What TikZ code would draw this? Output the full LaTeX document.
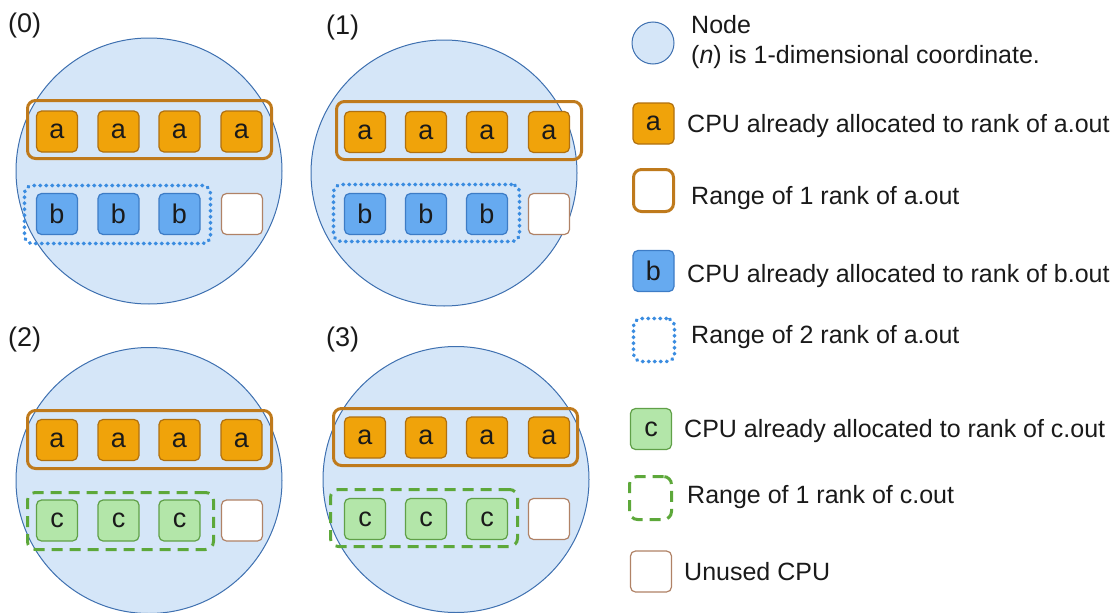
\documentclass[tikz,border=0pt]{standalone}
\usepackage{fontspec}
\setmainfont{Liberation Sans}
\usetikzlibrary{fit}
\definecolor{circfill}{HTML}{D5E6F8}
\definecolor{circline}{HTML}{3E70B0}
\definecolor{afill}{HTML}{F0A30A}
\definecolor{aline}{HTML}{B0700F}
\definecolor{arange}{HTML}{BF7A1C}
\definecolor{bfill}{HTML}{66AAF0}
\definecolor{bline}{HTML}{3D7CC6}
\definecolor{brange}{HTML}{3A8CE0}
\definecolor{cfill}{HTML}{B3E6A9}
\definecolor{cline}{HTML}{60A048}
\definecolor{crange}{HTML}{5DA83A}
\definecolor{uline}{HTML}{B08266}
\definecolor{txt}{HTML}{1A1A1A}
\tikzset{
 cpu/.style={draw, rounded corners=5pt, minimum size=41pt, inner sep=0pt, line width=1.2pt, font=\fontsize{27}{30}\selectfont, text=txt},
 acpu/.style={cpu, fill=afill, draw=aline},
 bcpu/.style={cpu, fill=bfill, draw=bline},
 ccpu/.style={cpu, fill=cfill, draw=cline},
 ucpu/.style={cpu, fill=white, draw=uline},
 nodecirc/.style={circle, draw=circline, fill=circfill, line width=1pt, minimum size=266pt, inner sep=0pt},
 rng/.style={rectangle, inner sep=0pt, line width=3pt, rounded corners=8pt},
 arng/.style={rng, draw=arange},
 brng/.style={rng, draw=brange, line width=3.6pt, dash pattern=on 0.6pt off 5.4pt, line cap=round},
 crng/.style={rng, draw=crange, dash pattern=on 11pt off 7pt},
 lbl/.style={font=\fontsize{25}{30}\selectfont, text=txt, anchor=base west, inner sep=0pt},
 panel/.style={font=\fontsize{27}{30}\selectfont, text=txt, anchor=base west, inner sep=0pt},
}
\begin{document}
\begin{tikzpicture}[x=1pt,y=-1pt]
\useasboundingbox (0,0) rectangle (1117,613);
% ---------- panel (0)
\node[panel] (p0) at (8,32.5) {(0)};
\node[nodecirc] (n0) at (149,171) {};
\node[acpu] (a01) at (57,131.5) {a};
\node[acpu] (a02) at (118.5,131.5) {a};
\node[acpu] (a03) at (179.5,131.5) {a};
\node[acpu] (a04) at (241.5,131.5) {a};
\node[bcpu] (b01) at (57,214) {b};
\node[bcpu] (b02) at (118.5,214) {b};
\node[bcpu] (b03) at (179.5,214) {b};
\node[ucpu] (u0) at (242,214) {};
\node[arng, fit={(27.5,100.5) (271.5,158.5)}] (r0a) {};
\node[brng, fit={(24.5,185.5) (210.5,243.5)}] (r0b) {};
% ---------- panel (1)
\node[panel] (p1) at (326,34.5) {(1)};
\node[nodecirc] (n1) at (444,173) {};
\node[acpu] (a11) at (365,132) {a};
\node[acpu] (a12) at (426,132) {a};
\node[acpu] (a13) at (487,132) {a};
\node[acpu] (a14) at (549,132) {a};
\node[bcpu] (b11) at (365,214) {b};
\node[bcpu] (b12) at (426,214) {b};
\node[bcpu] (b13) at (487,214) {b};
\node[ucpu] (u1) at (549,214) {};
\node[arng, fit={(336.5,101.5) (581.5,159.5)}] (r1a) {};
\node[brng, fit={(333.5,184.5) (519.5,241.5)}] (r1b) {};
% ---------- panel (2)
\node[panel] (p2) at (8,346.5) {(2)};
\node[nodecirc] (n2) at (149,480.5) {};
\node[acpu] (a21) at (57,440) {a};
\node[acpu] (a22) at (118.5,440) {a};
\node[acpu] (a23) at (179.5,440) {a};
\node[acpu] (a24) at (241.5,440) {a};
\node[ccpu] (c21) at (57,520.5) {c};
\node[ccpu] (c22) at (118.5,520.5) {c};
\node[ccpu] (c23) at (179.5,520.5) {c};
\node[ucpu] (u2) at (242,520.5) {};
\node[arng, fit={(27.5,410.5) (271.5,468.5)}] (r2a) {};
\node[crng, fit={(27.5,492.5) (213.5,549.5)}] (r2c) {};
% ---------- panel (3)
\node[panel] (p3) at (326,346.5) {(3)};
\node[nodecirc] (n3) at (456,479.5) {};
\node[acpu] (a31) at (365,437.5) {a};
\node[acpu] (a32) at (426,437.5) {a};
\node[acpu] (a33) at (487,437.5) {a};
\node[acpu] (a34) at (549,437.5) {a};
\node[ccpu] (c31) at (365,519) {c};
\node[ccpu] (c32) at (426,519) {c};
\node[ccpu] (c33) at (487,519) {c};
\node[ucpu] (u3) at (549,519) {};
\node[arng, fit={(333.5,408.5) (577.5,465.5)}] (r3a) {};
\node[crng, fit={(330.5,489.5) (517.5,546.5)}] (r3c) {};
% ---------- legend
\node[nodecirc, minimum size=42pt] (lg0) at (653,43) {};
\node[lbl] (lt0a) at (691,33) {Node};
\node[lbl] (lt0b) at (691,63) {(\textit{n}) is 1-dimensional coordinate.};
\node[acpu] (lg1) at (653.5,123.5) {a};
\node[lbl] (lt1) at (687,132) {CPU already allocated to rank of a.out};
\node[arng, fit={(633.5,169.5) (673.5,211.5)}] (lg2) {};
\node[lbl] (lt2) at (691,204) {Range of 1 rank of a.out};
\node[bcpu] (lg3) at (653.5,271) {b};
\node[lbl] (lt3) at (687,282) {CPU already allocated to rank of b.out};
\node[brng, fit={(633.5,318.5) (674.5,361.5)}] (lg4) {};
\node[lbl] (lt4) at (691,343) {Range of 2 rank of a.out};
\node[ccpu] (lg5) at (651,429) {c};
\node[lbl] (lt5) at (684,437) {CPU already allocated to rank of c.out};
\node[crng, fit={(629.5,476.5) (671.5,519.5)}] (lg6) {};
\node[lbl] (lt6) at (687,503) {Range of 1 rank of c.out};
\node[ucpu] (lg7) at (651,571.5) {};
\node[lbl] (lt7) at (684,580) {Unused CPU};
\end{tikzpicture}
\end{document}
